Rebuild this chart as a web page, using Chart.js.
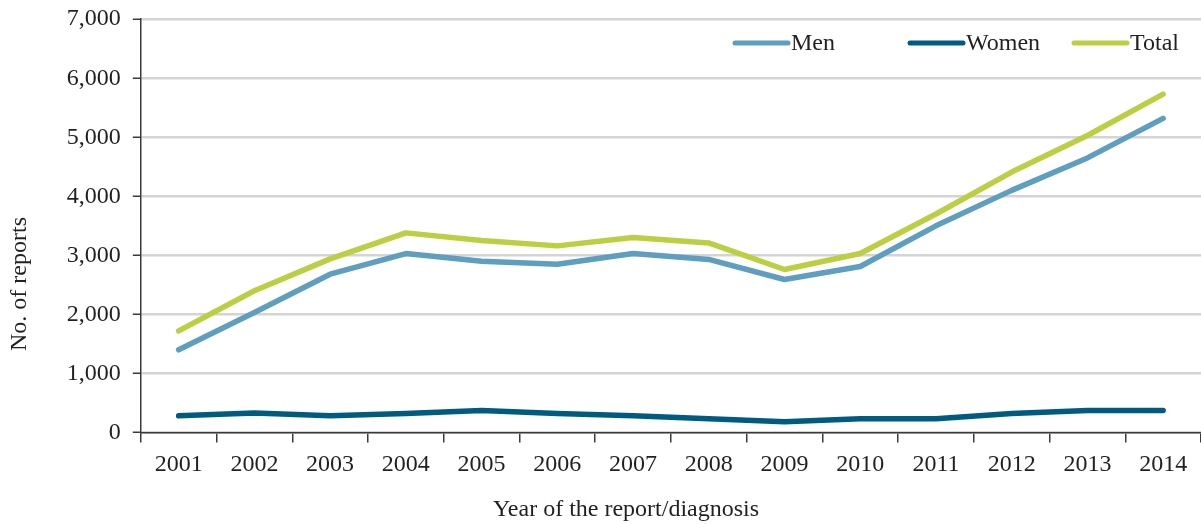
<!DOCTYPE html>
<html>
<head>
<meta charset="utf-8">
<script src="https://cdn.jsdelivr.net/npm/chart.js@4"></script>
<style>
body { margin: 0; background: #fff; }
#box { width: 1201px; height: 524px; }
</style>
</head>
<body>
<div id="box"><canvas id="reports_chart"></canvas></div>
<script>
var years = ['2001', '2002', '2003', '2004', '2005', '2006', '2007', '2008', '2009', '2010', '2011', '2012', '2013', '2014'];
var men   = [1400, 2030, 2680, 3030, 2900, 2850, 3030, 2930, 2590, 2810, 3500, 4100, 4650, 5320];
var women = [280, 330, 280, 320, 370, 320, 280, 230, 180, 230, 230, 320, 370, 370];
var total = [1720, 2400, 2940, 3380, 3250, 3160, 3300, 3210, 2760, 3030, 3700, 4410, 5030, 5730];

var xTitle = 'Year of the report/diagnosis';
var yTitle = 'No. of reports';

var serif = '"Liberation Serif", "Times New Roman", serif';
var txtColor = '#231f20';

// legend drawn by hand so it sits inside the plot, top right
var lineLegend = {
    id: 'lineLegend',
    afterDraw: function (chart) {
        var ctx = chart.ctx;
        var xs = [733, 908, 1072];
        var y = 43;
        ctx.save();
        ctx.font = '24px ' + serif;
        ctx.textBaseline = 'middle';
        chart.data.datasets.forEach(function (ds, i) {
            ctx.strokeStyle = ds.borderColor;
            ctx.lineWidth = 5;
            ctx.lineCap = 'round';
            ctx.beginPath();
            ctx.moveTo(xs[i] + 2, y);
            ctx.lineTo(xs[i] + 55, y);
            ctx.stroke();
            ctx.fillStyle = txtColor;
            ctx.fillText(ds.label, xs[i] + 58, y + 1);
        });
        ctx.restore();
    }
};

// axis titles in the original sit off the plot centre, so draw them here
// (chart.js titles stay on but transparent, to keep their space)
var axisTitles = {
    id: 'axisTitles',
    afterDraw: function (chart) {
        var ctx = chart.ctx;
        ctx.save();
        ctx.font = '24px ' + serif;
        ctx.fillStyle = txtColor;
        ctx.textAlign = 'center';
        ctx.textBaseline = 'middle';
        ctx.fillText(xTitle, 626, 510);
        ctx.translate(20, 284);
        ctx.rotate(-Math.PI / 2);
        ctx.fillText(yTitle, 0, 0);
        ctx.restore();
    }
};

function makeSet(label, data, color) {
    return {
        label: label,
        data: data,
        borderColor: color,
        backgroundColor: color,
        borderWidth: 5.5,
        borderCapStyle: 'round',
        borderJoinStyle: 'round',
        pointRadius: 0,
        tension: 0,
        fill: false
    };
}

new Chart(document.getElementById('reports_chart'), {
    type: 'line',
    data: {
        labels: years,
        datasets: [
            makeSet('Men', men, '#5e9ebf'),
            makeSet('Women', women, '#005b81'),
            makeSet('Total', total, '#bccf42')
        ]
    },
    plugins: [lineLegend, axisTitles],
    options: {
        responsive: true,
        maintainAspectRatio: false,
        animation: false,
        layout: { padding: { top: 0, right: 0, left: 4, bottom: -2 } },
        plugins: {
            legend: false,
            tooltip: { enabled: false }
        },
        scales: {
            x: {
                offset: true,
                border: { color: '#3a3a3a', width: 1.5 },
                grid: { offset: true, drawOnChartArea: false, drawTicks: true, tickLength: 10, color: '#3a3a3a', lineWidth: 1.5 },
                ticks: { color: txtColor, font: { family: serif, size: 24 }, padding: 8, maxRotation: 0 },
                title: { display: true, text: xTitle, color: 'rgba(0,0,0,0)', font: { family: serif, size: 24 }, padding: { top: 10, bottom: 0 } }
            },
            y: {
                min: 0,
                max: 7000,
                border: { color: '#3a3a3a', width: 1.5 },
                grid: { color: '#d4d4d4', lineWidth: 2.5, tickColor: '#3a3a3a', tickWidth: 1.5, tickLength: 8 },
                ticks: {
                    stepSize: 1000,
                    color: txtColor,
                    font: { family: serif, size: 24, lineHeight: 0.6 },
                    padding: 12,
                    callback: function (v) { return v.toLocaleString('en-US'); }
                },
                title: { display: true, text: yTitle, color: 'rgba(0,0,0,0)', font: { family: serif, size: 24 }, padding: { top: 2, bottom: 20 } }
            }
        }
    }
});
</script>
</body>
</html>
